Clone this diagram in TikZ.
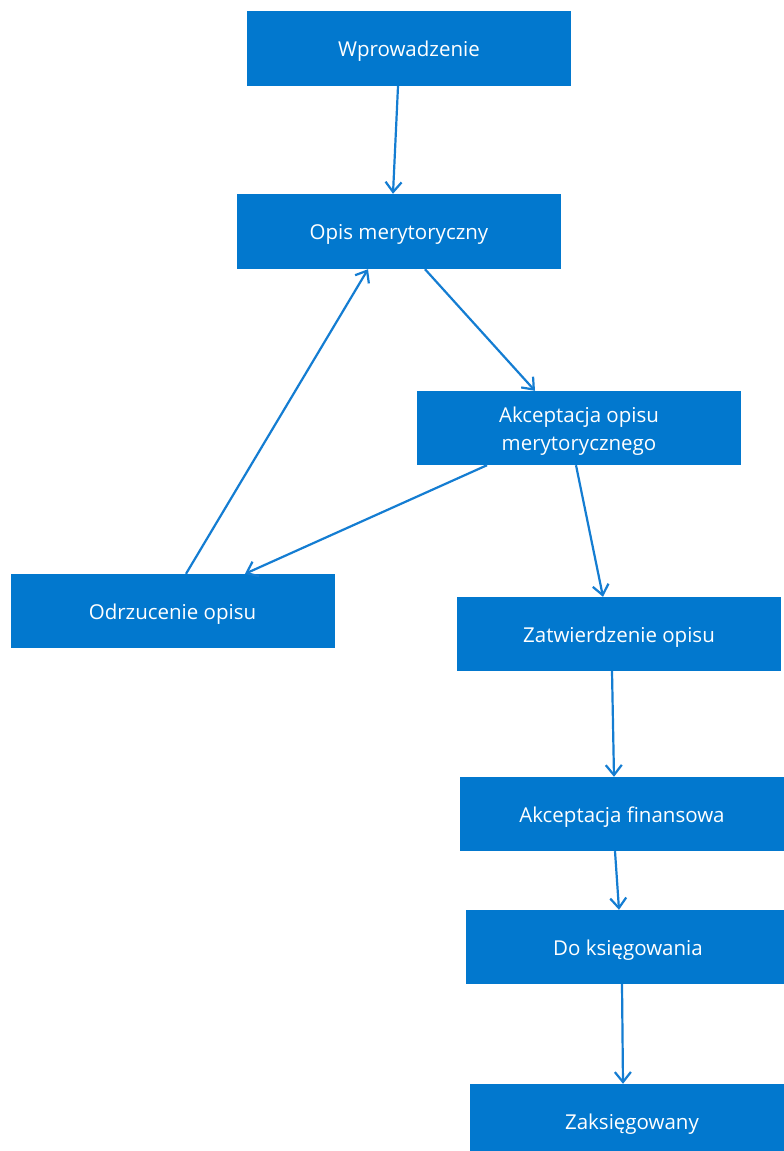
\documentclass[tikz,border=0pt]{standalone}
\usepackage{fontspec}
\setmainfont{Open Sans}
\usetikzlibrary{arrows.meta}
\definecolor{boxblue}{RGB}{2,120,206}
\definecolor{arrowblue}{RGB}{20,125,210}
\begin{document}
\begin{tikzpicture}[x=1pt,y=-1pt,
  stepbox/.style={rectangle, fill=boxblue, draw=none, minimum width=324pt, minimum height=74pt,
    inner sep=0pt},
  lab/.style={text=white, font=\fontsize{20.5}{28}\selectfont, align=center, inner sep=0pt, yshift=-3pt},
  flow/.style={draw=arrowblue, line width=2.2pt, -{Straight Barb[length=10pt,width=16pt,line width=2.2pt]}}]
\clip (0,0) rectangle (784,1151);
\fill[white] (0,0) rectangle (784,1151);
\node[stepbox, minimum height=75pt, label={[lab]center:Wprowadzenie}] (w) at (409,48.5) {};
\node[stepbox, minimum height=75pt, label={[lab]center:Opis merytoryczny}] (o) at (399,231.5) {};
\node[stepbox, label={[lab]center:Akceptacja opisu\\merytorycznego}] (a) at (579,428) {};
\node[stepbox, label={[lab]center:Odrzucenie opisu}] (d) at (172.5,611) {};
\node[stepbox, label={[lab]center:Zatwierdzenie opisu}] (z) at (619,634) {};
\node[stepbox, label={[lab]center:Akceptacja finansowa}] (f) at (622,814) {};
\node[stepbox, label={[lab]center:Do księgowania}] (k) at (628,947) {};
\node[stepbox, label={[lab]center:Zaksięgowany}] (s) at (632,1121) {};
\draw[flow] ([xshift=-11pt]w.south) -- ([xshift=-6pt]o.north);
\draw[flow] ([xshift=26pt]o.south) -- ([xshift=-44pt]a.north);
\draw[flow] ([xshift=-92pt]a.south) -- ([xshift=72.5pt]d.north);
\draw[flow] ([xshift=13.5pt]d.north) -- ([xshift=-31pt]o.south);
\draw[flow] ([xshift=-3pt]a.south) -- ([xshift=-16pt]z.north);
\draw[flow] ([xshift=-7pt]z.south) -- ([xshift=-8pt]f.north);
\draw[flow] ([xshift=-7pt]f.south) -- ([xshift=-9pt]k.north);
\draw[flow] ([xshift=-6pt]k.south) -- ([xshift=-9pt]s.north);
\end{tikzpicture}
\end{document}
